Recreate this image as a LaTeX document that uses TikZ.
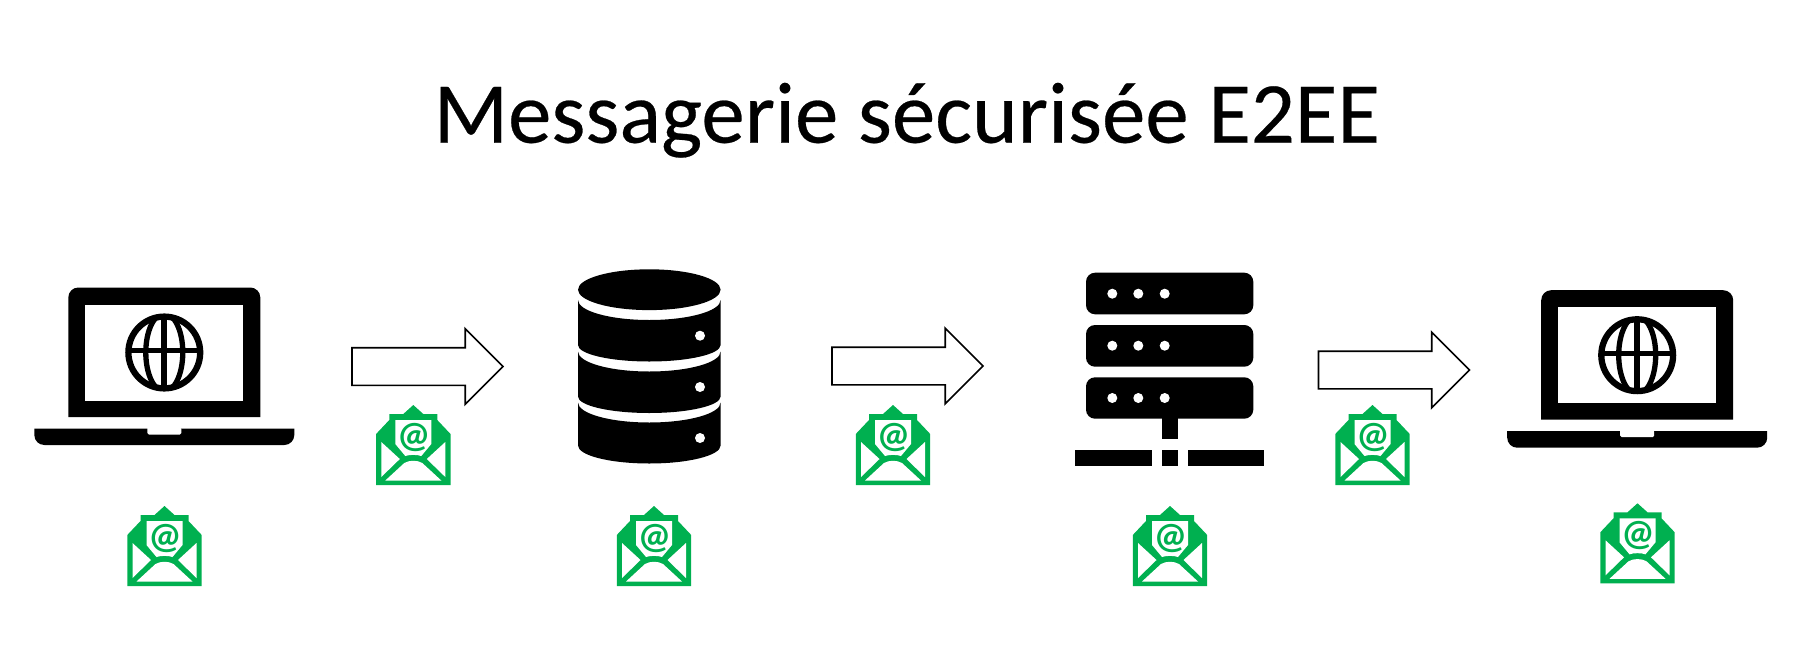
\documentclass[tikz,border=0pt]{standalone}
\usepackage{fontspec}
\setmainfont{Carlito}
\newfontfamily\titlefont[FakeBold=0.3]{Carlito}
\usepackage{tikz}
\usetikzlibrary{shapes, calc}
\definecolor{mailgreen}{HTML}{00B050}

\tikzset{
	mailicon/.pic={
		\fill[mailgreen] (0,0) -- (10,9) -- (24,9) -- (24,15) -- (37.2,29) -- (37.2,80) -- (-37.2,80) -- (-37.2,29) -- (-24,15) -- (-24,9) -- (-10,9) -- cycle;
		\fill[white] (-18,15) -- (18,15) -- (18,39) -- (8,51) .. controls (4,49.5) and (-4,49.5) .. (-8,51) -- (-18,39) -- cycle;
		\fill[white] (-32,37) -- (-32,72) -- (-13.5,54) -- cycle;
		\fill[white] (32,37) -- (32,72) -- (13.5,54) -- cycle;
		\fill[white] (-28,75.5) -- (-9,58) .. controls (-4,55) and (4,55) .. (9,58) -- (28,75.5) -- cycle;
		\node[text=mailgreen, font=\bfseries\fontsize{37}{37}\selectfont, inner sep=0] (-at) at (0.5,32.5) {@};
	},
	laptopicon/.pic={
		\fill[black] (-96,64.5) -- (-96,-55) arc [start angle=180, end angle=270, radius=10] -- (86,-65) arc [start angle=270, end angle=360, radius=10] -- (96,64.5) -- cycle;
		\fill[white] (-79,-48) rectangle (79,48);
		\fill[black] (-130,76) -- (-130,82.5) arc [start angle=180, end angle=90, radius=10] -- (120,92.5) arc [start angle=90, end angle=0, radius=10] -- (130,76) -- cycle;
		\fill[white, rounded corners=1.5pt] (-17,75) -- (-17,82) -- (17,82) -- (17,75) [sharp corners] -- cycle;
		\begin{scope}
			\clip (0,0) circle [radius=37];
			\draw[line width=5.3pt] (0,0) ellipse [x radius=18.5, y radius=39];
		\end{scope}
		\draw[line width=6.3pt] (0,0) circle [radius=35.9];
		\draw[line width=5.3pt] (-37,-2) -- (37,-2);
		\draw[line width=5.7pt] (0,-37) -- (0,37);
	}
}

\begin{document}
\begin{tikzpicture}[x=1pt, y=-1pt]
	\tikzstyle{boxarrow}=[
	draw,
	single arrow,
	line width=1.7pt,
	minimum height=151pt,
	inner xsep=0pt,
	inner ysep=18pt,
	single arrow head extend=19pt,
	outer sep=0pt,
	anchor=tail
	]
	\tikzstyle{rack}=[
	fill=black,
	rounded corners=9pt
	]
	\tikzstyle{led}=[
	fill=white
	]
	\useasboundingbox (0,0) rectangle (1816,664);
	\node[anchor=base west, inner sep=0pt, font=\titlefont\fontsize{87}{90}\selectfont] (title) at (433.5,142.7) {Messagerie sécurisée E2EE};

	\pic (laptopA) at (164.3,352.5) {laptopicon};
	\pic (laptopB) at (1637.2,355.2) {laptopicon};

	% database
	\fill (649.3,289.7) ellipse [x radius=71.3, y radius=20.4];
	\fill (578,300) arc [start angle=180, end angle=0, x radius=71.3, y radius=20] -- (720.6,345) arc [start angle=0, end angle=180, x radius=71.3, y radius=16.5] -- cycle;
	\fill (578,351.5) arc [start angle=180, end angle=0, x radius=71.3, y radius=20] -- (720.6,396.5) arc [start angle=0, end angle=180, x radius=71.3, y radius=16.5] -- cycle;
	\fill (578,402.5) arc [start angle=180, end angle=0, x radius=71.3, y radius=20] -- (720.6,445.5) arc [start angle=0, end angle=180, x radius=71.3, y radius=18] -- cycle;
	\fill[led] (700,335.7) circle [radius=5];
	\fill[led] (700,387) circle [radius=5];
	\fill[led] (700,438) circle [radius=5];

	% server
	\fill[rack] (1086,272.7) rectangle (1253.3,314.3);
	\fill[rack] (1086,325) rectangle (1253.3,366.7);
	\fill[rack] (1086,377.3) rectangle (1253.3,418.7);
	\fill[led] (1112.3,293.7) circle [radius=5];
	\fill[led] (1138.3,293.7) circle [radius=5];
	\fill[led] (1164.7,293.7) circle [radius=5];
	\fill[led] (1112.3,345.7) circle [radius=5];
	\fill[led] (1138.3,345.7) circle [radius=5];
	\fill[led] (1164.7,345.7) circle [radius=5];
	\fill[led] (1112.3,398) circle [radius=5];
	\fill[led] (1138.3,398) circle [radius=5];
	\fill[led] (1164.7,398) circle [radius=5];
	\fill (1162,415) rectangle (1178,439.3);
	\fill (1075.3,450) rectangle (1151.7,466);
	\fill (1162,450) rectangle (1178,466);
	\fill (1188.3,450) rectangle (1264.3,466);

	\node[boxarrow] (arrowA) at (352,366.5) {};
	\node[boxarrow] (arrowB) at (832,366) {};
	\node[boxarrow] (arrowC) at (1318.5,370) {};

	\pic (mailA) at (164.5,506) {mailicon};
	\pic (mailB) at (413.3,405) {mailicon};
	\pic (mailC) at (654,506) {mailicon};
	\pic (mailD) at (893,405) {mailicon};
	\pic (mailE) at (1170,506) {mailicon};
	\pic (mailF) at (1372.5,405) {mailicon};
	\pic (mailG) at (1637.5,503.3) {mailicon};
\end{tikzpicture}
\end{document}
